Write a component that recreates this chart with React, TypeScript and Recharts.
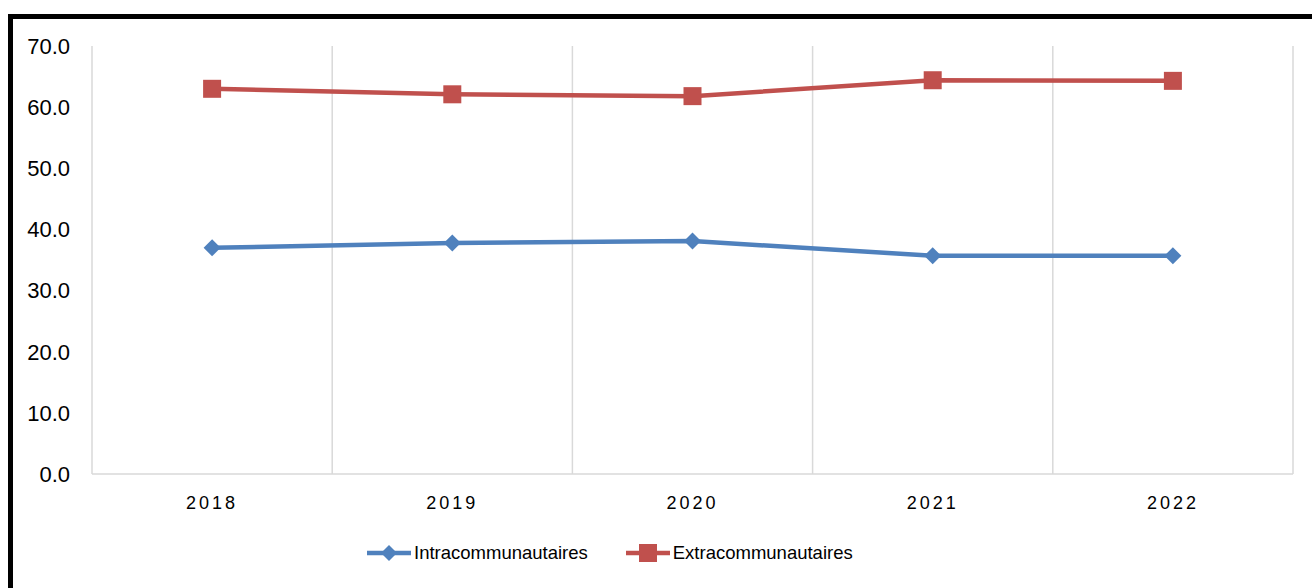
import React from 'react'
import { LineChart, Line, XAxis, YAxis, CartesianGrid, Legend } from 'recharts'

const years = ['2018', '2019', '2020', '2021', '2022']
const intra = [37.0, 37.8, 38.1, 35.7, 35.7]
const extra = [63.0, 62.1, 61.8, 64.4, 64.3]
const yTicks = [0, 10, 20, 30, 40, 50, 60, 70]

const BLUE = '#4f81bd'
const RED = '#c0504d'
const GRID = '#d9d9d9'
const FONT = '"Liberation Sans", Arial, sans-serif'

const data = years.map((year, i) => ({ pos: i + 1, year, intra: intra[i], extra: extra[i] }))
const xTicks = data.map((d) => d.pos)
// category boundaries, where Excel draws its vertical gridlines
const edges = [...xTicks.map((p) => p - 0.5), xTicks.length + 0.5]
const xDomain = [edges[0], edges[edges.length - 1]]

const edgeCoords = (props: any) => {
  const scale = props?.xAxis?.scale
  if (typeof scale === 'function') return edges.map((e) => scale(e))
  const { left, width } = props.offset
  return edges.map((e) => left + ((e - xDomain[0]) / (xDomain[1] - xDomain[0])) * width)
}

const Diamond = (props: any) => {
  const { cx, cy } = props
  if (cx == null || cy == null) return null
  return <path d={`M${cx},${cy - 8.5} L${cx + 8.5},${cy} L${cx},${cy + 8.5} L${cx - 8.5},${cy} Z`} fill={BLUE} />
}

const Square = (props: any) => {
  const { cx, cy } = props
  if (cx == null || cy == null) return null
  return <rect x={cx - 9} y={cy - 9} width={18} height={18} fill={RED} />
}

const LegendIcon = ({ color, shape }: { color: string; shape: 'diamond' | 'square' }) => (
  <svg width={44} height={20} style={{ marginRight: 3 }}>
    <line x1={0} y1={10} x2={44} y2={10} stroke={color} strokeWidth={4.5} />
    {shape === 'diamond' ? (
      <path d="M22,2 L30,10 L22,18 L14,10 Z" fill={color} />
    ) : (
      <rect x={13} y={1} width={18} height={18} fill={color} />
    )}
  </svg>
)

const ChartLegend = () => (
  <div
    style={{
      display: 'flex',
      justifyContent: 'flex-start',
      alignItems: 'center',
      height: 46,
      fontFamily: FONT,
      fontSize: 18.5,
      color: '#000',
      paddingLeft: 367,
    }}
  >
    <div style={{ display: 'flex', alignItems: 'center', marginRight: 38 }}>
      <LegendIcon color={BLUE} shape="diamond" />
      <span>Intracommunautaires</span>
    </div>
    <div style={{ display: 'flex', alignItems: 'center' }}>
      <LegendIcon color={RED} shape="square" />
      <span>Extracommunautaires</span>
    </div>
  </div>
)

export default function App() {
  return (
    <div style={{ position: 'fixed', left: 0, top: 0, width: 1312, height: 588, overflow: 'hidden', background: '#fff' }}>
      <div
        style={{
          position: 'absolute',
          left: 8,
          top: 14,
          width: 1400,
          height: 700,
          borderTop: '5px solid #000',
          borderLeft: '5px solid #000',
          boxSizing: 'border-box',
        }}
      />
      <div style={{ position: 'absolute', left: 0, top: 0 }}>
        <LineChart width={1312} height={588} data={data} margin={{ top: 46, right: 19, left: 0, bottom: 12 }}>
          <CartesianGrid
            horizontal={false}
            vertical
            verticalCoordinatesGenerator={edgeCoords}
            stroke={GRID}
            strokeWidth={1.5}
          />
          <XAxis
            dataKey="pos"
            type="number"
            domain={xDomain}
            ticks={xTicks}
            interval={0}
            tickFormatter={(v: number) => years[v - 1]}
            axisLine={{ stroke: GRID, strokeWidth: 1.5 }}
            tickLine={false}
            tickSize={6}
            tickMargin={16}
            height={56}
            tick={{ fontSize: 18, fill: '#000', fontFamily: FONT, letterSpacing: 3 }}
          />
          <YAxis
            domain={[0, 70]}
            ticks={yTicks}
            tickFormatter={(v: number) => v.toFixed(1)}
            axisLine={false}
            tickLine={false}
            tickSize={6}
            tickMargin={16}
            width={92}
            tick={{ fontSize: 22, fill: '#000', fontFamily: FONT }}
          />
          <Legend verticalAlign="bottom" height={46} content={() => <ChartLegend />} />
          <Line
            dataKey="intra"
            name="Intracommunautaires"
            stroke={BLUE}
            strokeWidth={4.5}
            dot={<Diamond />}
            activeDot={false}
            isAnimationActive={false}
          />
          <Line
            dataKey="extra"
            name="Extracommunautaires"
            stroke={RED}
            strokeWidth={4.5}
            dot={<Square />}
            activeDot={false}
            isAnimationActive={false}
          />
        </LineChart>
      </div>
    </div>
  )
}
